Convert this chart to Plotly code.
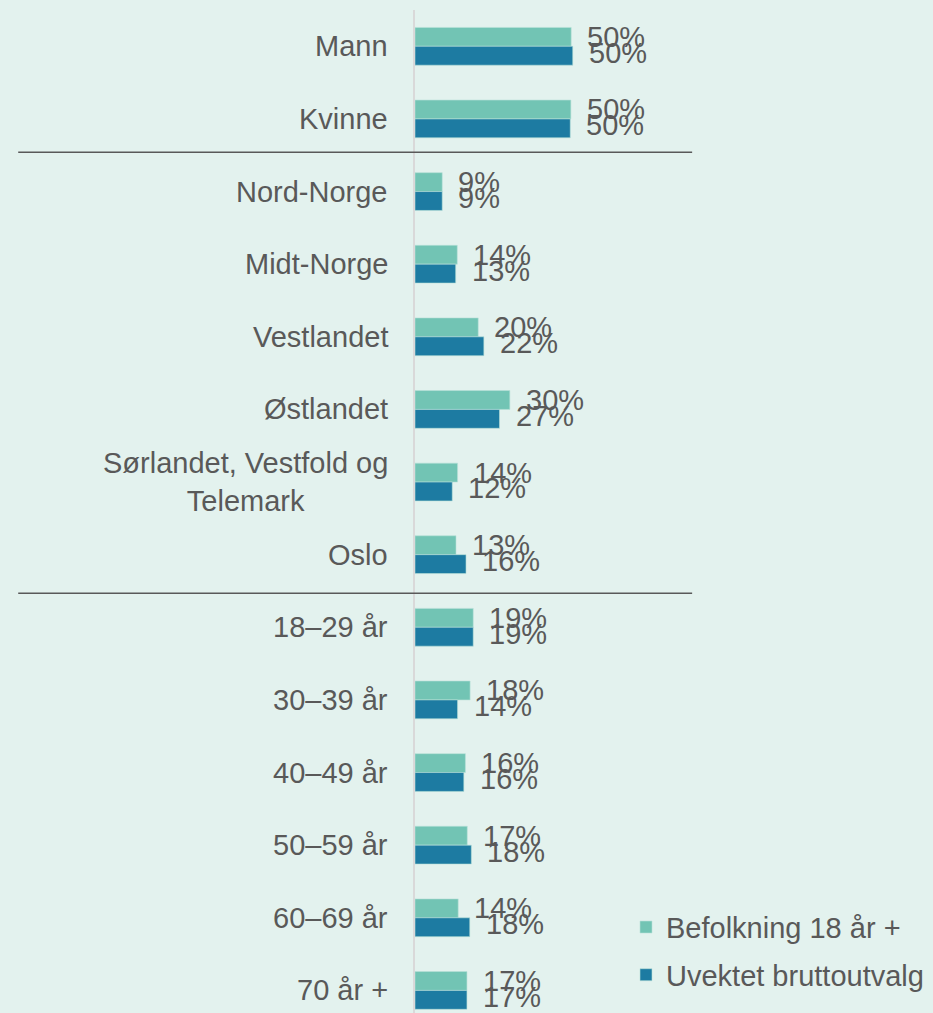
import plotly.graph_objects as go

# categories, top to bottom
categories = [
    "Mann", "Kvinne",
    "Nord-Norge", "Midt-Norge", "Vestlandet", "Østlandet",
    "Sørlandet, Vestfold og<br>Telemark", "Oslo",
    "18–29 år", "30–39 år", "40–49 år", "50–59 år", "60–69 år", "70 år +",
]

# bar lengths (percent)
befolkning = [49.9, 49.8, 8.7, 13.5, 20.2, 30.3, 13.6, 13.1, 18.6, 17.6, 16.1, 16.7, 13.8, 16.6]
bruttoutvalg = [50.4, 49.6, 8.7, 13.0, 22.0, 27.0, 11.9, 16.3, 18.6, 13.6, 15.6, 18.0, 17.5, 16.6]

# printed value labels
befolkning_labels = ["50%", "50%", "9%", "14%", "20%", "30%", "14%", "13%", "19%", "18%", "16%", "17%", "14%", "17%"]
bruttoutvalg_labels = ["50%", "50%", "9%", "13%", "22%", "27%", "12%", "16%", "19%", "14%", "16%", "18%", "18%", "17%"]

series_names = ["Befolkning 18 år +", "Uvektet bruttoutvalg"]

BG = "#e3f2ee"
TEAL = "#72c4b4"
BLUE = "#1d7ba2"
TEXT = "#595959"
FONT = "Liberation Sans, Arial, sans-serif"
SIZE = 29

pos = list(range(len(categories)))

fig = go.Figure()

for name, vals, color in [(series_names[0], befolkning, TEAL),
                          (series_names[1], bruttoutvalg, BLUE)]:
    fig.add_trace(go.Bar(
        x=vals,
        y=pos,
        orientation="h",
        name=name,
        legendgroup=name,
        marker=dict(color=color, line=dict(color="#b9e0d8", width=0.6)),
        hoverinfo="skip",
    ))

# value labels just right of each bar end (pulled slightly together, as in the original)
bar_half = 0.13
for i in pos:
    fig.add_annotation(x=befolkning[i], y=i - bar_half, text=befolkning_labels[i],
                       xanchor="left", yanchor="middle", xshift=14, yshift=0,
                       showarrow=False, font=dict(size=SIZE, color=TEXT, family=FONT))
    fig.add_annotation(x=bruttoutvalg[i], y=i + bar_half, text=bruttoutvalg_labels[i],
                       xanchor="left", yanchor="middle", xshift=14, yshift=3,
                       showarrow=False, font=dict(size=SIZE, color=TEXT, family=FONT))

# category labels, centred lines like the original
for i, cat in zip(pos, categories):
    fig.add_annotation(xref="paper", x=0, y=i, text=cat, xanchor="right",
                       yanchor="middle", align="center", xshift=-25,
                       showarrow=False, font=dict(size=SIZE, color=TEXT, family=FONT))

# separators between the groups (kjønn / landsdel / alder)
for yy in [1.46, 7.53]:
    fig.add_shape(type="line", xref="paper", yref="y", x0=-0.766, x1=0.535,
                  y0=yy, y1=yy, line=dict(color=TEXT, width=1.5))

fig.update_layout(
    width=933,
    height=1013,
    paper_bgcolor=BG,
    plot_bgcolor=BG,
    barmode="group",
    bargap=0.48,
    bargroupgap=0,
    margin=dict(l=415, r=0, t=10, b=0),
    font=dict(family=FONT, size=SIZE, color=TEXT),
    showlegend=True,
    legend=dict(
        x=(626 - 415) / 518, xanchor="left",
        y=0.111, yanchor="top",
        bgcolor="rgba(0,0,0,0)",
        traceorder="grouped",
        tracegroupgap=7,
        font=dict(size=SIZE, color=TEXT, family=FONT),
    ),
    xaxis=dict(range=[0, 518 / 3.13], visible=False, fixedrange=True),
    yaxis=dict(
        range=[13.311, -0.5],
        showticklabels=False,
        showgrid=False,
        zeroline=False,
        showline=True,
        linecolor="#d9d9d9",
        linewidth=2,
        fixedrange=True,
    ),
)

# drop the browser's default 8px body margin so the figure fills the window
fig.write_html("out.html", config={"displayModeBar": False},
               post_script="document.body.style.margin='0';")
